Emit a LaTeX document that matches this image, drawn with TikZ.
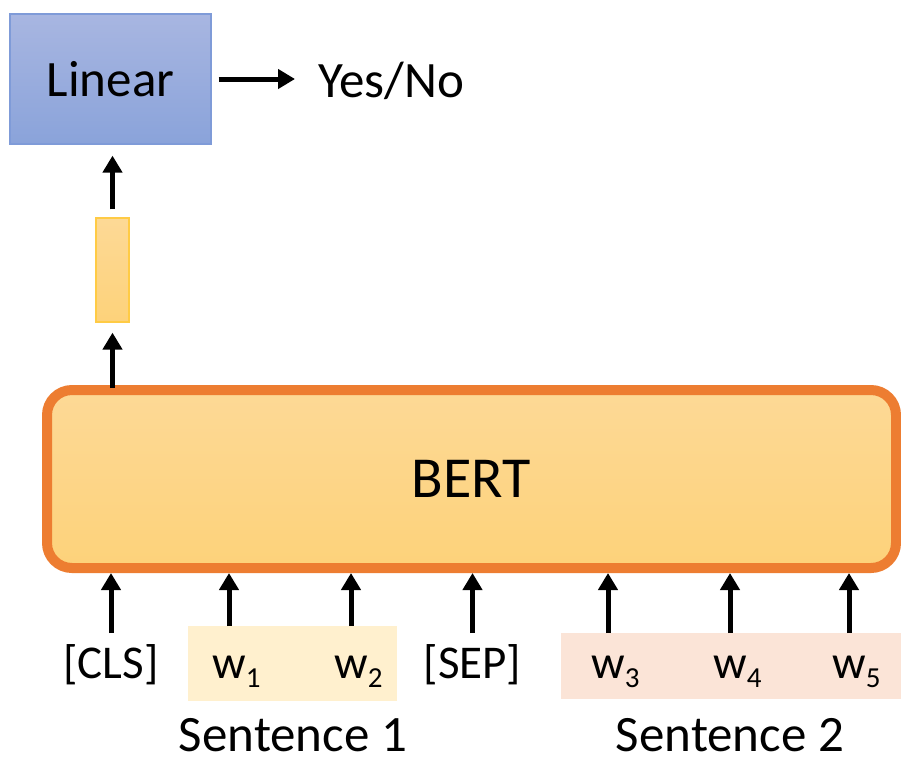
\documentclass[tikz,border=0pt]{standalone}
\usepackage{fontspec}
\setmainfont{Carlito}
\usetikzlibrary{arrows.meta}
\definecolor{linTop}{HTML}{A8B6E1}
\definecolor{linBot}{HTML}{8AA3DA}
\definecolor{linLine}{HTML}{7F9BD8}
\definecolor{yelTop}{HTML}{FDD996}
\definecolor{yelBot}{HTML}{FDD27A}
\definecolor{vecLine}{HTML}{FFCB45}
\definecolor{bertLine}{HTML}{ED7D31}
\definecolor{sOne}{HTML}{FFF0CE}
\definecolor{sTwo}{HTML}{FBE4D7}
\tikzset{
  arr/.style={line width=5pt,-{Triangle[width=19pt,length=17pt]}},
  tok/.style={anchor=base,inner sep=0pt,font=\fontsize{47}{47}\selectfont},
  sent/.style={anchor=base,inner sep=0pt,font=\fontsize{51}{51}\selectfont},
  sbox/.style={draw=none,inner sep=0pt,anchor=north west},
}
\newcommand{\subn}[1]{\rlap{\raisebox{-9pt}{\fontsize{29}{29}\selectfont #1}}}
\begin{document}
\begin{tikzpicture}[x=1pt,y=-1pt]
\useasboundingbox (0,0) rectangle (901,756);
% Linear box
\node[draw=linLine,line width=1.2pt,top color=linTop,bottom color=linBot,
      minimum width=201pt,minimum height=130pt,inner sep=0pt,
      font=\fontsize{51}{51}\selectfont] (linear) at (110.5,79) {Linear};
\node[anchor=base west,inner sep=0pt,font=\fontsize{51}{51}\selectfont] (yes) at (318,97) {Yes/No};
\draw[arr,shorten <=7pt,shorten >=23pt] (linear.east) -- (linear.east -| yes.west);
% vector
\node[draw=vecLine,line width=1.2pt,top color=yelTop,bottom color=yelBot,
      minimum width=33pt,minimum height=104pt,inner sep=0pt] (vec) at (112.5,270) {};
\draw[arr,shorten <=8pt,shorten >=11pt] (vec.north) -- (vec.north |- linear.south);
% BERT
\node[draw=bertLine,line width=10pt,rounded corners=25pt,top color=yelTop,bottom color=yelBot,
      minimum width=849pt,minimum height=178pt,inner sep=0pt,
      font=\fontsize{58}{58}\selectfont] (bert) at (471.5,479) {BERT};
\draw[arr,shorten <=-3pt,shorten >=10pt] (vec.south |- bert.north) -- (vec.south);
% sentence boxes
\node[sbox,fill=sOne,minimum width=209pt,minimum height=75pt] (s1) at (188,626) {};
\node[sbox,fill=sTwo,minimum width=340pt,minimum height=66pt] (s2) at (561,633) {};
% tokens
\node[tok] (cls) at (111,678) {[CLS]};
\node[tok] (w1) at (229,678) {w\subn{1}};
\node[tok] (w2) at (351,678) {w\subn{2}};
\node[tok] (sep) at (472.5,678) {[SEP]};
\node[tok] (w3) at (608,678) {w\subn{3}};
\node[tok] (w4) at (730,678) {w\subn{4}};
\node[tok] (w5) at (849,678) {w\subn{5}};
\node[sent] (t1) at (293,751) {Sentence 1};
\node[sent] (t2) at (730,751) {Sentence 2};
% input arrows
\draw[arr] (cls |- s2.north) -- (cls |- bert.south);
\draw[arr] (w1 |- s1.north) -- (w1 |- bert.south);
\draw[arr] (w2 |- s1.north) -- (w2 |- bert.south);
\draw[arr] (sep |- s2.north) -- (sep |- bert.south);
\draw[arr] (w3 |- s2.north) -- (w3 |- bert.south);
\draw[arr] (w4 |- s2.north) -- (w4 |- bert.south);
\draw[arr] (w5 |- s2.north) -- (w5 |- bert.south);
\end{tikzpicture}
\end{document}
